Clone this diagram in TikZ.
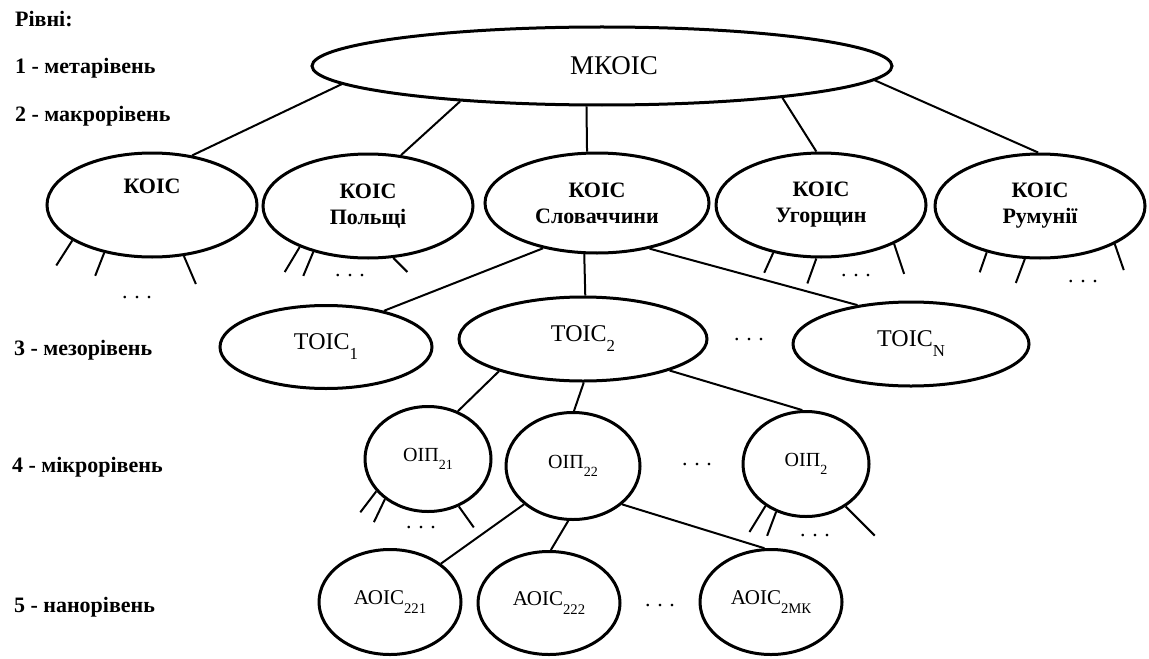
\documentclass[tikz,border=0pt]{standalone}
\usepackage{fontspec}
\setmainfont{Liberation Serif}
\usetikzlibrary{shapes.geometric}
\newcommand{\lowsub}[1]{\raisebox{-0.9ex}{\scalebox{0.7}{#1}}}
\newcommand{\gapdots}{.\hspace{3.3pt}.\hspace{3.3pt}.}
\begin{document}
\begin{tikzpicture}[x=0.5pt,y=-0.5pt,
  oval/.style={ellipse,draw,line width=1.5pt,inner sep=0pt,align=center},
  big/.style={oval,font=\fontsize{11}{13}\selectfont\bfseries,minimum width=105pt,minimum height=52pt},
  link/.style={line width=1pt},
  lvl/.style={anchor=west,font=\fontsize{11}{13}\selectfont\bfseries},
  gap/.style={font=\fontsize{11}{13}\selectfont}]
\useasboundingbox (0,0) rectangle (1149,658);
% levels
\node[lvl] (head) at (8,19) {Рівні:};
\node[lvl] (l1) at (8,68) {1 - метарівень};
\node[lvl] (l2) at (8,116) {2 - макрорівень};
\node[lvl] (l3) at (7,350) {3 - мезорівень};
\node[lvl] (l4) at (5,467) {4 - мікрорівень};
\node[lvl] (l5) at (7,607) {5 - нанорівень};
% top
\node[oval,font=\fontsize{13.5}{15}\selectfont,minimum width=290pt,minimum height=39pt] (mkoic) at (602,66) {\hspace{12pt}МКОІС};
\node[big] (koic) at (152,205) {КОІС\\[6pt]\mbox{}};
\node[big] (pol) at (368,206) {КОІС\\Польщі};
\node[big,minimum width=112pt,minimum height=50pt] (slov) at (597,203) {КОІС\\Словаччини};
\node[big] (ugor) at (821,205) {КОІС\\Угорщин};
\node[big] (rum) at (1040,206) {КОІС\\Румунії};
\draw[link] (mkoic.184) -- (koic.51);
\draw[link] (mkoic.194) -- (pol.57);
\draw[link] (mkoic.249) -- (slov.101);
\draw[link] (mkoic.350) -- (ugor.95);
\draw[link] (mkoic.357) -- (rum.92);
% open branches
\foreach \n/\a/\dx/\dy in {koic/204/-16/25, koic/225/-9/23, koic/302/12/28,
  pol/211/-15/25, pol/220/-10/24, pol/296/14/14,
  ugor/225/-9/20, ugor/265/-9/25, ugor/332/10/30,
  rum/221/-7/20, rum/254/-9/24, rum/333/9/26}
  \draw[link] (\n.\a) -- ++(\dx,\dy);
\node[gap] (kdots) at (137,298) {\gapdots};
\node[gap] (pdots) at (350,276) {\gapdots};
\node[gap] (udots) at (856,276) {\gapdots};
\node[gap] (rdots) at (1083,282) {\gapdots};
% meso
\node[oval,font=\fontsize{12}{14}\selectfont,minimum width=106pt,minimum height=41.5pt] (toic1) at (326,347) {ТОІС\lowsub{1}};
\node[oval,font=\fontsize{12}{14}\selectfont,minimum width=124pt,minimum height=42pt] (toic2) at (583,339) {ТОІС\lowsub{2}};
\node[oval,font=\fontsize{12}{14}\selectfont,minimum width=118pt,minimum height=42pt] (toicN) at (911,344) {ТОІС\lowsub{N}};
\node[gap] (tdots) at (749,340) {\gapdots};
\draw[link] (slov.220) -- (toic1.32);
\draw[link] (slov.256) -- (toic2.87);
\draw[link] (slov.319) -- (toicN.144);
% micro
\node[oval,font=\fontsize{10}{12}\selectfont,minimum width=63pt,minimum height=52.5pt] (oip21) at (428,459) {ОІП\lowsub{21}};
\node[oval,font=\fontsize{10}{12}\selectfont,minimum width=67pt,minimum height=53.5pt] (oip22) at (573,466) {ОІП\lowsub{22}};
\node[oval,font=\fontsize{10}{12}\selectfont,minimum width=63pt,minimum height=52.5pt] (oip2) at (806,464) {ОІП\lowsub{2}};
\node[gap] (odots) at (697,465) {\gapdots};
\draw[link] (toic2.201) -- (oip21.58);
\draw[link] (toic2.271) -- (oip22.89);
\draw[link] (toic2.340) -- (oip2.94);
\foreach \n/\a/\dx/\dy in {oip21/212/-16/21, oip21/223/-11/23, oip21/303/15/21,
  oip2/226/-16/26, oip2/238/-9/24, oip2/313/29/29}
  \draw[link] (\n.\a) -- ++(\dx,\dy);
\node[gap] (o1dots) at (421,528) {\gapdots};
\node[gap] (o2dots) at (815,536) {\gapdots};
% nano
\node[oval,font=\fontsize{10.5}{12}\selectfont,minimum width=71pt,minimum height=52.5pt] (aoic221) at (390,602) {АОІС\lowsub{221}};
\node[oval,font=\fontsize{10.5}{12}\selectfont,minimum width=71pt,minimum height=51.5pt] (aoic222) at (549,603) {АОІС\lowsub{222}};
\node[oval,font=\fontsize{10.5}{12}\selectfont,minimum width=71pt,minimum height=52.5pt] (aoic2mk) at (771,602) {АОІС\lowsub{2МК}};
\node[gap] (adots) at (660,606) {\gapdots};
\draw[link] (oip22.218) -- (aoic221.37);
\draw[link] (oip22.265) -- (aoic222.88);
\draw[link] (oip22.322) -- (aoic2mk.97);
\end{tikzpicture}
\end{document}
